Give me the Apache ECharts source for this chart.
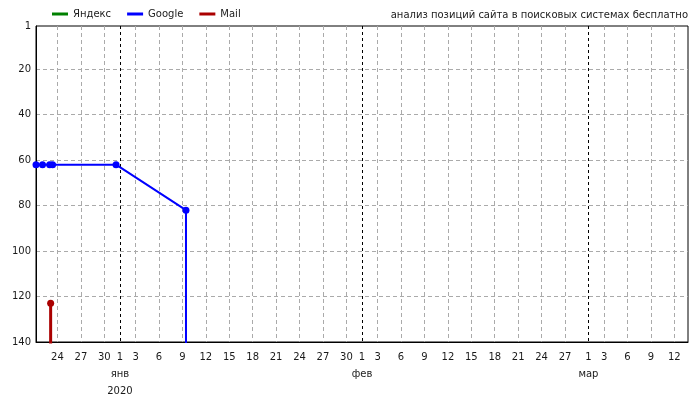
<!DOCTYPE html>
<html><head><meta charset="utf-8">
<script src="https://cdn.jsdelivr.net/npm/echarts@6/dist/echarts.min.js"></script>
<style>html,body{margin:0;padding:0;background:#fff}#c{width:700px;height:400px}</style>
</head><body><div id="c"></div>
<script>
// ---- data ----
const seriesNames = ['Яндекс', 'Google', 'Mail'];
const seriesColors = ['#008000', '#0000ff', '#aa0000'];
const yandexTimes = [];
const yandexValues = [];
const googleTimes = ['2019-12-21 06:00', '2019-12-22 02:00', '2019-12-23 00:00', '2019-12-23 09:00', '2019-12-31 12:00', '2020-01-09 11:00', '2020-01-09 11:00'];
const googleValues = [62, 62, 62, 62, 62, 82, 150];
const mailTimes = ['2019-12-23 03:00', '2019-12-23 03:00'];
const mailValues = [123, 150];
const xRange = ['2019-12-21 06:00', '2020-03-13 18:00'];
const dayTicks = ['2019-12-24', '2019-12-27', '2019-12-30',
  '2020-01-03', '2020-01-06', '2020-01-09', '2020-01-12', '2020-01-15', '2020-01-18', '2020-01-21', '2020-01-24', '2020-01-27', '2020-01-30',
  '2020-02-03', '2020-02-06', '2020-02-09', '2020-02-12', '2020-02-15', '2020-02-18', '2020-02-21', '2020-02-24', '2020-02-27',
  '2020-03-03', '2020-03-06', '2020-03-09', '2020-03-12'];
const monthTicks = ['2020-01-01', '2020-02-01', '2020-03-01'];
const monthNames = ['янв', 'фев', 'мар'];
const yearLabel = '2020';
const yLabels = [1, 20, 40, 60, 80, 100, 120, 140];
const yGrid = [20, 40, 60, 80, 100, 120];
const titleText = 'анализ позиций сайта в поисковых системах бесплатно';

// ---- helpers: dates -> day numbers (days since 2020-01-01) ----
function utc(s) {
  const m = s.match(/(\d+)-(\d+)-(\d+)(?:\s+(\d+):(\d+))?/);
  return Date.UTC(+m[1], +m[2] - 1, +m[3], m[4] ? +m[4] : 0, m[5] ? +m[5] : 0);
}
const EPOCH = utc('2020-01-01');
function day(s) { return (utc(s) - EPOCH) / 86400000; }
function dayToDate(d) { return new Date(EPOCH + Math.round(d * 86400000)); }
function pairs(t, v) { return t.map((d, i) => [day(d), v[i]]); }
const dayVals = dayTicks.map(day);
const monthVals = monthTicks.map(day);
const allDayLabelVals = dayVals.concat(monthVals).sort((a, b) => a - b);

const font = 'DejaVu Sans';
const txt = '#1a1a1a';

const chart = echarts.init(document.getElementById('c'), null, {renderer: 'canvas'});
chart.setOption({
  animation: false,
  textStyle: {fontFamily: font},
  title: {
    text: titleText, right: 12, top: 10, padding: 0,
    textStyle: {fontSize: 10, fontWeight: 'normal', color: txt, fontFamily: font}
  },
  legend: {
    left: 52, top: 9, padding: 0, icon: 'rect', itemWidth: 16, itemHeight: 3, itemGap: 16,
    textStyle: {fontSize: 10, color: txt, fontFamily: font},
    data: seriesNames
  },
  grid: {left: 36, right: 12, top: 26, bottom: 58, show: true, borderColor: '#000', borderWidth: 1, backgroundColor: 'transparent'},
  xAxis: [{
    type: 'value', min: day(xRange[0]), max: day(xRange[1]),
    axisLine: {show: true, onZero: false, lineStyle: {color: '#000', width: 1}},
    axisTick: {show: false, customValues: dayVals},
    splitLine: {show: true, lineStyle: {color: '#aaa', type: [4, 3], width: 1}},
    axisLabel: {
      customValues: allDayLabelVals, margin: 10, fontSize: 10, color: txt, fontFamily: font,
      showMinLabel: true, showMaxLabel: true, hideOverlap: false,
      formatter: v => String(dayToDate(v).getUTCDate())
    }
  }, {
    type: 'value', min: day(xRange[0]), max: day(xRange[1]), position: 'bottom', gridIndex: 0,
    axisLine: {show: false, onZero: false},
    axisTick: {show: false, customValues: monthVals},
    splitLine: {show: true, lineStyle: {color: '#000', type: [3, 3], width: 1}},
    axisLabel: {
      customValues: monthVals, margin: 24, fontSize: 10, color: txt, fontFamily: font, lineHeight: 17,
      showMinLabel: true, showMaxLabel: true,
      formatter: v => {
        const i = monthVals.indexOf(v);
        return i === 0 ? monthNames[i] + '\n' + yearLabel : monthNames[i];
      }
    }
  }],
  yAxis: {
    type: 'value', inverse: true, min: 1, max: 140,
    axisLine: {show: true, onZero: false, lineStyle: {color: '#000', width: 1}},
    axisTick: {show: false, customValues: yGrid},
    splitLine: {show: true, lineStyle: {color: '#aaa', type: [4, 3], width: 1}},
    axisLabel: {customValues: yLabels, margin: 5, fontSize: 10, color: txt, fontFamily: font}
  },
  series: [{
    name: seriesNames[0], type: 'line', color: seriesColors[0],
    data: pairs(yandexTimes, yandexValues),
    lineStyle: {width: 2}, symbol: 'circle', symbolSize: 6
  }, {
    name: seriesNames[1], type: 'line', color: seriesColors[1],
    data: pairs(googleTimes, googleValues), clip: true,
    lineStyle: {width: 2}, symbol: 'circle', symbolSize: 7, showAllSymbol: true, z: 5
  }, {
    name: seriesNames[2], type: 'line', color: seriesColors[2],
    data: pairs(mailTimes, mailValues), clip: true,
    lineStyle: {width: 3}, symbol: 'circle', symbolSize: 7, showAllSymbol: true, z: 5
  }]
});
</script>
</body></html>
